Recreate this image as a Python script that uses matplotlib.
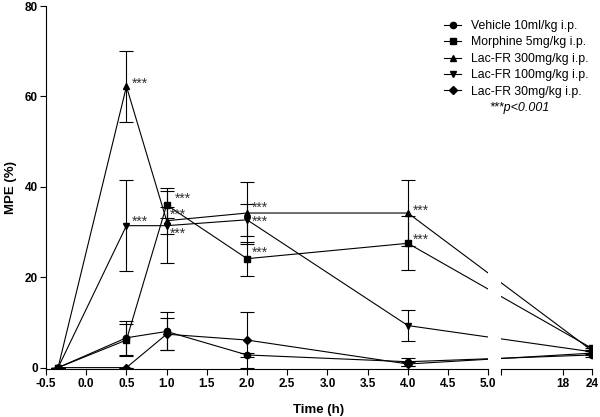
import numpy as np
import matplotlib
matplotlib.use('Agg')
import matplotlib.pyplot as plt

plt.rcParams['font.family'] = ['Liberation Sans', 'DejaVu Sans']

# --- Data (MPE %, mean and SEM) ---
times = [-0.35, 0.5, 1.0, 2.0, 4.0, 24.0]

vehicle = [0.0, 6.6, 8.0, 2.8, 1.3, 2.8]
vehicle_err = [0.0, 3.8, 4.2, 0.4, 0.9, 0.4]
morphine = [0.0, 6.1, 36.0, 24.1, 27.5, 4.3]
morphine_err = [0.0, 3.6, 3.0, 3.8, 6.0, 0.5]
lac300 = [0.0, 62.2, 32.5, 34.2, 34.2, 3.8]
lac300_err = [0.0, 7.8, 3.0, 6.8, 7.3, 0.5]
lac100 = [0.0, 31.4, 31.4, 32.7, 9.3, 3.5]
lac100_err = [0.0, 10.0, 8.3, 3.5, 3.4, 0.4]
lac30 = [0.0, 0.0, 7.4, 6.1, 0.8, 3.2]
lac30_err = [0.0, 0.0, 3.5, 6.1, 0.5, 0.4]

labels = ['Vehicle 10ml/kg i.p.', 'Morphine 5mg/kg i.p.', 'Lac-FR 300mg/kg i.p.',
          'Lac-FR 100mg/kg i.p.', 'Lac-FR 30mg/kg i.p.']
markers = ['o', 's', '^', 'v', 'D']

xticks = [-0.5, 0.0, 0.5, 1.0, 1.5, 2.0, 2.5, 3.0, 3.5, 4.0, 4.5, 5.0, 18, 24]
xticklabels = ['-0.5', '0.0', '0.5', '1.0', '1.5', '2.0', '2.5', '3.0', '3.5',
               '4.0', '4.5', '5.0', '18', '24']
yticks = [0, 20, 40, 60, 80]

# significance marks: (series, time index, dx px, dy px)
stars = [(2, 1, 5, 5), (3, 1, 5, 6),
         (1, 2, 8, 8), (2, 2, 3, 8), (3, 2, 3, -6),
         (2, 3, 5, 7), (3, 3, 5, 0), (1, 3, 5, 8),
         (2, 4, 5, 4), (1, 4, 5, 6)]

# --- Broken x axis: -0.5..5 linear, then 5..24 compressed ---
GAP = 0.154
K = 0.0596


def fwd(x):
    x = np.asarray(x, dtype=float)
    return np.where(x <= 5, x, 5 + GAP + (x - 5) * K)


def inv(u):
    u = np.asarray(u, dtype=float)
    return np.where(u <= 5, u, np.where(u < 5 + GAP, 5.0, 5 + (u - 5 - GAP) / K))


fig = plt.figure(figsize=(6, 4.17), dpi=100)
ax = fig.add_axes([0.0767, 0.1141, 0.9095, 0.8715])
ax.set_xscale('function', functions=(fwd, inv))

series = [vehicle, morphine, lac300, lac100, lac30]
errs = [vehicle_err, morphine_err, lac300_err, lac100_err, lac30_err]
handles = []
for vals, err, m in zip(series, errs, markers):
    c = ax.errorbar(times, vals, yerr=err, marker=m, color='black', ms=4.5 if m != 'D' else 4,
                    lw=0.8, elinewidth=0.8, capsize=5, capthick=0.8, zorder=3)
    handles.append(c.lines[0])

for si, ti, dx, dy in stars:
    ax.annotate('***', (times[ti], series[si][ti]), xytext=(dx, dy - 6),
                textcoords='offset pixels', fontsize=10, color='#333333',
                ha='left', va='baseline', zorder=4)

# white gap across the break
ax.axvspan(5.0, 5.0001, color='white', zorder=5, lw=0)

ax.set_xlim(-0.5, 24)
ax.set_ylim(-0.4, 80)
ax.set_xticks(xticks + [5.0001])
ax.set_xticklabels(xticklabels + [''])
ax.set_yticks(yticks)
for lab in ax.get_xticklabels() + ax.get_yticklabels():
    lab.set_fontweight('bold')
ax.tick_params(direction='out', length=4, width=0.8, labelsize=8.5, pad=2)

for s in ['top', 'right', 'bottom']:
    ax.spines[s].set_visible(False)
ax.spines['left'].set_linewidth(0.8)
xa = ax.get_xaxis_transform()
ax.plot([-0.5, 5.0], [0, 0], color='black', lw=0.8, transform=xa, clip_on=False, zorder=6)
ax.plot([5.0001, 24], [0, 0], color='black', lw=0.8, transform=xa, clip_on=False, zorder=6)

ax.set_xlabel('Time (h)', fontsize=9.5, fontweight='bold')
ax.xaxis.set_label_coords(0.5, -0.095)
ax.set_ylabel('MPE (%)', fontsize=9.5, fontweight='bold')
ax.yaxis.set_label_coords(-0.053, 0.5)

fig.legend(handles, labels, loc='upper left', bbox_to_anchor=(444 / 600, 1 - 20 / 417),
           frameon=False, fontsize=8.8, borderpad=0, borderaxespad=0, handlelength=1.4,
           handletextpad=0.8, labelspacing=0.36)
fig.text(519 / 600, 1 - 108 / 417, '***p<0.001', fontsize=9, style='italic',
         ha='center', va='center')

fig.savefig('out.png', dpi=100)
